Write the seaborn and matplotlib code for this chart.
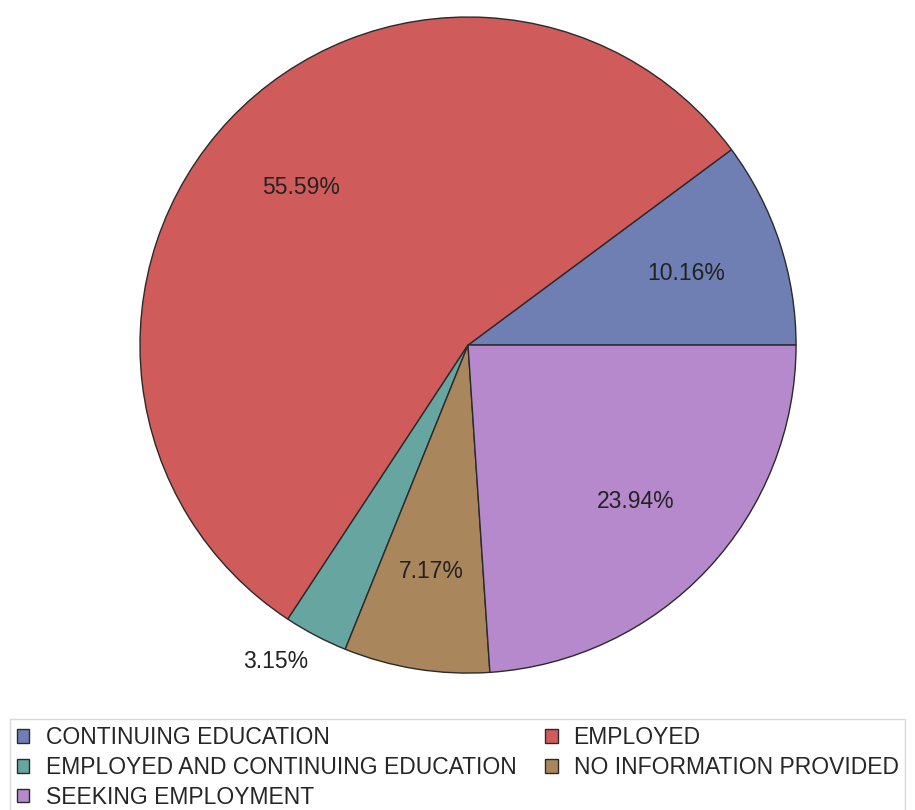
import numpy as np
import seaborn as sns
import matplotlib.pyplot as plt

# data
categories = ['CONTINUING EDUCATION', 'EMPLOYED', 'EMPLOYED AND CONTINUING EDUCATION',
              'NO INFORMATION PROVIDED', 'SEEKING EMPLOYMENT']
percents = [10.16, 55.59, 3.15, 7.17, 23.94]
colors = ['#6F7EB3', '#D05B5B', '#66A5A0', '#A9865B', '#B689CD']

sns.set_theme(style='white')
plt.rcParams['font.family'] = ['Liberation Sans', 'DejaVu Sans']

fig = plt.figure(figsize=(9.15, 8.10), dpi=100)
ax = fig.add_axes([0.153, 0.169, 0.717, 0.810])

wedges, _ = ax.pie(percents, colors=colors, startangle=0, counterclock=True,
                   wedgeprops=dict(edgecolor='#2a2a2a', linewidth=1.0))
ax.set_xlim(-1, 1)
ax.set_ylim(-1, 1)
ax.set_aspect('equal')

# percent labels (small slices outside)
for w, p in zip(wedges, percents):
    ang = np.deg2rad((w.theta1 + w.theta2) / 2)
    if p > 5:
        ax.text(0.70 * np.cos(ang), 0.70 * np.sin(ang), f'{p:.2f}%', ha='center',
                va='center', fontsize=16.5, color='#222222')
    else:
        ax.text(1.05 * np.cos(ang), 1.05 * np.sin(ang), f'{p:.2f}%', ha='right',
                va='top', fontsize=16.5, color='#222222', clip_on=False)

# legend in row-major order
order = [0, 2, 4, 1, 3]
leg = fig.legend([wedges[i] for i in order], [categories[i] for i in order],
                 loc='upper left', bbox_to_anchor=(10 / 915, 1 - 719 / 810),
                 ncol=2, frameon=True, fontsize=16.5, handlelength=0.55, handleheight=0.55,
                 handletextpad=0.7, columnspacing=1.25, labelspacing=0.3,
                 borderpad=0.3, borderaxespad=0, fancybox=False)
leg.get_frame().set_edgecolor('#d0d0d0')
leg.get_frame().set_linewidth(1.0)

plt.savefig('out.png', dpi=100)
